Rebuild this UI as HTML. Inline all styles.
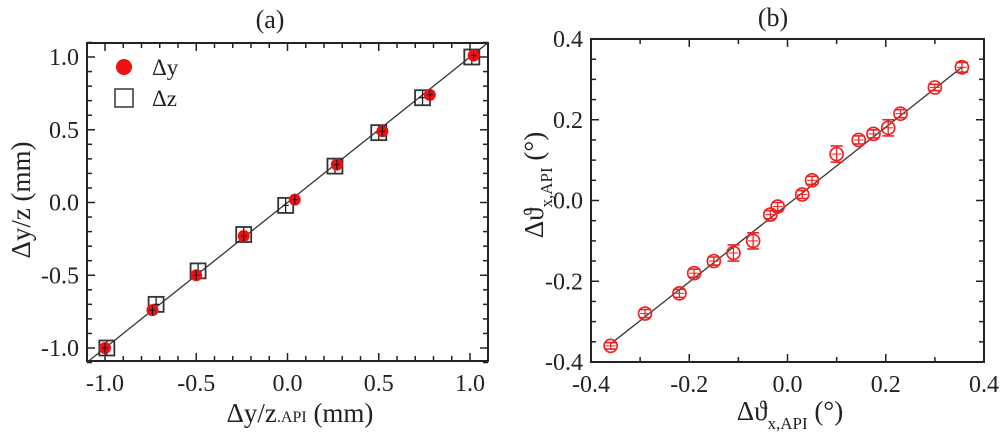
<!DOCTYPE html>
<html><head><meta charset="utf-8"><style>
html,body{margin:0;padding:0;background:#fff;}
svg, svg text{font-family:"Liberation Serif","DejaVu Serif",serif;}
</style></head><body>
<svg id="chart" width="1000" height="439" viewBox="0 0 1000 439" font-family="Liberation Serif, serif">
<g id="pa"></g>
<g id="pb"></g>
</svg>
<script>
// Panel (a) data
const aYx = [-1.0, -0.74, -0.50, -0.24, 0.04, 0.27, 0.52, 0.78, 1.02];
const aYy = [-1.0, -0.74, -0.50, -0.23, 0.02, 0.26, 0.49, 0.74, 1.01];
const aZx = [-0.99, -0.72, -0.49, -0.24, -0.01, 0.26, 0.50, 0.74, 1.01];
const aZy = [-1.0, -0.70, -0.47, -0.22, -0.02, 0.25, 0.48, 0.72, 1.00];
const aTicks = [-1.0, -0.5, 0.0, 0.5, 1.0];
const aTickLabels = ["-1.0", "-0.5", "0.0", "0.5", "1.0"];
// Panel (b) data
const bX = [-0.36, -0.29, -0.22, -0.19, -0.15, -0.11, -0.07, -0.035, -0.02, 0.03, 0.05, 0.10, 0.145, 0.175, 0.205, 0.23, 0.30, 0.355];
const bY = [-0.36, -0.28, -0.23, -0.18, -0.15, -0.13, -0.10, -0.035, -0.015, 0.015, 0.05, 0.115, 0.15, 0.165, 0.18, 0.215, 0.28, 0.33];
const bErr = [0.008, 0.01, 0.01, 0.01, 0.01, 0.02, 0.02, 0.01, 0.01, 0.01, 0.01, 0.02, 0.01, 0.01, 0.02, 0.01, 0.008, 0.012];
const bTicks = [-0.4, -0.2, 0.0, 0.2, 0.4];
const bTickLabels = ["-0.4", "-0.2", "0.0", "0.2", "0.4"];

const NS = "http://www.w3.org/2000/svg";
const FF = "Liberation Serif, serif";
function mk(parent, tag, attrs, text) {
  const e = document.createElementNS(NS, tag);
  for (const k in attrs) e.setAttribute(k, attrs[k]);
  if (tag === "text") e.setAttribute("font-family", FF);
  if (text !== undefined) e.textContent = text;
  parent.appendChild(e);
  return e;
}
function lin(d0, d1, r0, r1) { return v => r0 + (v - d0) * (r1 - r0) / (d1 - d0); }

function frame(g, L, T, R, B, xs, ys, xTicks, xLabels, yTicks, yLabels, xMinor, yMinor) {
  let e = mk(g, "rect", {x: L, y: T, width: R - L, height: B - T, fill: "none", stroke: "#222", "stroke-width": 2});
  
  
  xMinor.forEach(v => {
    const x = xs(v);
    const major = xTicks.some(t => Math.abs(t - v) < 1e-6);
    const l = major ? 8 : 5;
    mk(g, "line", {x1: x, y1: B, x2: x, y2: B - l, stroke: "#222", "stroke-width": 1.5});
    mk(g, "line", {x1: x, y1: T, x2: x, y2: T + l, stroke: "#222", "stroke-width": 1.5});
  });
  yMinor.forEach(v => {
    const y = ys(v);
    const major = yTicks.some(t => Math.abs(t - v) < 1e-6);
    const l = major ? 8 : 5;
    mk(g, "line", {x1: L, y1: y, x2: L + l, y2: y, stroke: "#222", "stroke-width": 1.5});
    mk(g, "line", {x1: R, y1: y, x2: R - l, y2: y, stroke: "#222", "stroke-width": 1.5});
  });
  xTicks.forEach((v, i) => {
    const t = mk(g, "text", {x: xs(v), y: B + 30, "text-anchor": "middle", "font-size": 24, fill: "#222"}, xLabels[i]);
    
    
  });
  yTicks.forEach((v, i) => {
    const t = mk(g, "text", {x: L - 8, y: ys(v) + 8, "text-anchor": "end", "font-size": 24, fill: "#222"}, yLabels[i]);
    
    
  });
}
function range(a, b, s) { const r = []; for (let v = a; v <= b + 1e-9; v += s) r.push(Math.round(v * 1000) / 1000); return r; }

// ---------- Panel a ----------
(function () {
  const g = document.getElementById("pa");
  const L = 87, T = 43, R = 488, B = 361;
  const xs = lin(-1, 1, 105, 470), ys = lin(-1, 1, 348, 57);
  frame(g, L, T, R, B, xs, ys, aTicks, aTickLabels, aTicks, aTickLabels, range(-1.1, 1.1, 0.1), range(-1.1, 1.1, 0.1));
  let e = mk(g, "line", {x1: xs(-1.1), y1: ys(-1.1), x2: xs(1.1), y2: ys(1.1), stroke: "#333", "stroke-width": 1.3});
  
  
  aZx.forEach((v, i) => {
    const x = xs(v), y = ys(aZy[i]);
    const r = mk(g, "rect", {x: x - 7.5, y: y - 7.5, width: 15, height: 15, fill: "none", stroke: "#333", "stroke-width": 1.8});
    
    
    mk(g, "line", {x1: x, y1: y - 7, x2: x, y2: y + 7, stroke: "#111", "stroke-width": 1.2});
    mk(g, "line", {x1: x - 3, y1: y, x2: x + 3, y2: y, stroke: "#111", "stroke-width": 1.2});
  });
  aYx.forEach((v, i) => {
    const x = xs(v), y = ys(aYy[i]);
    const c = mk(g, "circle", {cx: x, cy: y, r: 6, fill: "#ee1111"});
    
    
    mk(g, "line", {x1: x, y1: y - 5, x2: x, y2: y + 5, stroke: "#111", "stroke-width": 1});
    mk(g, "line", {x1: x - 3, y1: y, x2: x + 3, y2: y, stroke: "#111", "stroke-width": 1});
  });
  // legend
  e = mk(g, "circle", {cx: 124, cy: 67, r: 8, fill: "#ee1111"});
  
  
  e = mk(g, "text", {x: 152, y: 75, "font-size": 23, fill: "#222"}, "Δy");
  
  
  e = mk(g, "rect", {x: 115, y: 89, width: 18, height: 18, fill: "none", stroke: "#333", "stroke-width": 1.5});
  
  
  e = mk(g, "text", {x: 152, y: 106, "font-size": 23, fill: "#222"}, "Δz");
  
  
  e = mk(g, "text", {x: 270, y: 28, "text-anchor": "middle", "font-size": 26, fill: "#222"}, "(a)");
  
  
  e = mk(g, "text", {x: 300, y: 422, "text-anchor": "middle", "font-size": 27, fill: "#222"});
  
  
  mk(e, "tspan", {}, "Δy/z");
  mk(e, "tspan", {"font-size": 16}, ".API");
  mk(e, "tspan", {}, " (mm)");
  e = mk(g, "text", {x: 0, y: 0, "text-anchor": "middle", "font-size": 27, fill: "#222", transform: "translate(30,200) rotate(-90)"}, "Δy/z (mm)");
  
  
})();

// ---------- Panel b ----------
(function () {
  const g = document.getElementById("pb");
  const L = 591, T = 39, R = 984, B = 362;
  const xs = lin(-0.4, 0.4, L, R), ys = lin(-0.4, 0.4, B, T);
  frame(g, L, T, R, B, xs, ys, bTicks, bTickLabels, bTicks, bTickLabels, range(-0.4, 0.4, 0.1), range(-0.4, 0.4, 0.05));
  let e = mk(g, "line", {x1: xs(-0.36), y1: ys(-0.355), x2: xs(0.355), y2: ys(0.33), stroke: "#333", "stroke-width": 1.3});
  
  
  bX.forEach((v, i) => {
    const x = xs(v), y = ys(bY[i]);
    const y1 = ys(bY[i] + bErr[i]), y2 = ys(bY[i] - bErr[i]);
    mk(g, "line", {x1: x, y1: y1, x2: x, y2: y2, stroke: "#ee2222", "stroke-width": 1.3});
    mk(g, "line", {x1: x - 6, y1: y1, x2: x + 6, y2: y1, stroke: "#ee2222", "stroke-width": 1.6});
    mk(g, "line", {x1: x - 6, y1: y2, x2: x + 6, y2: y2, stroke: "#ee2222", "stroke-width": 1.6});
    mk(g, "line", {x1: x - 5, y1: y, x2: x + 5, y2: y, stroke: "#ee2222", "stroke-width": 1});
    const c = mk(g, "circle", {cx: x, cy: y, r: 6.5, fill: "none", stroke: "#ee2222", "stroke-width": 1.7});
    
    
  });
  e = mk(g, "text", {x: 773, y: 26, "text-anchor": "middle", "font-size": 26, fill: "#222"}, "(b)");
  
  
  e = mk(g, "text", {x: 790, y: 420, "text-anchor": "middle", "font-size": 27, fill: "#222"});
  
  
  mk(e, "tspan", {}, "Δϑ");
  mk(e, "tspan", {"font-size": 17, dy: 9}, "x,API");
  mk(e, "tspan", {dy: -9}, " (°)");
  e = mk(g, "text", {x: 0, y: 0, "text-anchor": "middle", "font-size": 27, fill: "#222", transform: "translate(543,185) rotate(-90)"});
  
  
  mk(e, "tspan", {}, "Δϑ");
  mk(e, "tspan", {"font-size": 17, dy: 9}, "x,API");
  mk(e, "tspan", {dy: -9}, " (°)");
})();
</script>
</body></html>
